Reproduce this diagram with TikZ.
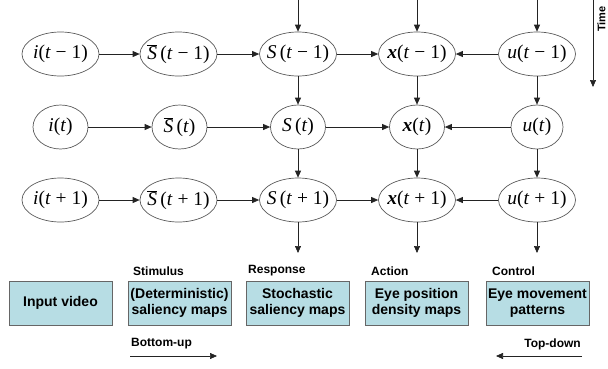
\documentclass[tikz,border=0pt]{standalone}
\usepackage{fontspec}
\setmainfont{Liberation Sans}
\newfontfamily\tms{Liberation Serif}
\usetikzlibrary{shapes.geometric,arrows.meta}
\definecolor{boxfill}{RGB}{183,221,228}
\definecolor{linec}{RGB}{35,35,35}
\newcommand{\mv}[1]{\makebox[0pt][c]{#1}}
\begin{document}
\begin{tikzpicture}[x=1pt,y=-1pt,
  var/.style={draw=linec!75, line width=0.7pt, ellipse, inner sep=0pt, minimum height=44pt, font=\tms\fontsize{19.5}{22}\selectfont},
  wide/.style={var, minimum width=77pt},
  narrow/.style={var, minimum width=55pt},
  arr/.style={draw=linec, line width=0.7pt, -{Triangle[length=7pt,width=6pt]}},
  box/.style={draw=black!60, line width=0.8pt, fill=boxfill, minimum width=103pt, minimum height=44pt, inner sep=0pt, align=center, font=\bfseries\fontsize{14}{15.5}\selectfont},
  lab/.style={font=\bfseries\fontsize{12}{14}\selectfont, inner sep=0pt}
]
\useasboundingbox (0,0) rectangle (608,368);

% row 1
\node[wide] (i1) at (60.5,54) {\mv{\textit{i}(\textit{t} − 1)}};
\node[wide] (sb1) at (178.5,54) {\mv{$\overline{\mbox{\textit{S}}}$\,(\textit{t} − 1)}};
\node[wide] (s1) at (298,54) {\mv{\textit{S}\,(\textit{t} − 1)}};
\node[wide] (x1) at (417,54) {\mv{\textbf{\textit{x}}(\textit{t} − 1)}};
\node[wide] (u1) at (537,54) {\mv{\textit{u}(\textit{t} − 1)}};
% row 2
\node[narrow] (i2) at (60.5,127) {\mv{\textit{i}(\textit{t})}};
\node[narrow] (sb2) at (179.5,127) {\mv{$\overline{\mbox{\textit{S}}}$\,(\textit{t})}};
\node[narrow] (s2) at (298,127) {\mv{\textit{S}\,(\textit{t})}};
\node[narrow] (x2) at (417,127) {\mv{\textbf{\textit{x}}(\textit{t})}};
\node[var, minimum width=52pt] (u2) at (537,127) {\mv{\textit{u}(\textit{t})}};
% row 3
\node[wide] (i3) at (60.5,200) {\mv{\textit{i}(\textit{t} + 1)}};
\node[wide] (sb3) at (178.5,200) {\mv{$\overline{\mbox{\textit{S}}}$\,(\textit{t} + 1)}};
\node[wide] (s3) at (298,200) {\mv{\textit{S}\,(\textit{t} + 1)}};
\node[wide] (x3) at (417,200) {\mv{\textbf{\textit{x}}(\textit{t} + 1)}};
\node[wide] (u3) at (537,200) {\mv{\textit{u}(\textit{t} + 1)}};

% horizontal arrows
\foreach \r in {1,2,3}{
  \draw[arr] (i\r.east) -- (sb\r.west);
  \draw[arr] (sb\r.east) -- (s\r.west);
  \draw[arr] (s\r.east) -- (x\r.west);
  \draw[arr] (u\r.west) -- (x\r.east);
}
% vertical arrows
\foreach \c in {s,x,u}{
  \draw[arr] (\c1.south) -- (\c2.north);
  \draw[arr] (\c2.south) -- (\c3.north);
}
% top arrows
\coordinate (ts) at (298,0);
\coordinate (tx) at (417,0);
\coordinate (tu) at (537,0);
\draw[arr] (ts) -- (s1.north);
\draw[arr] (tx) -- (x1.north);
\draw[arr] (tu) -- (u1.north);
% bottom arrows
\coordinate (bs) at (298,253);
\coordinate (bx) at (417,253);
\coordinate (bu) at (537,253);
\draw[arr] (s3.south) -- (bs);
\draw[arr] (x3.south) -- (bx);
\draw[arr] (u3.south) -- (bu);

% time
\node[lab, rotate=90, font=\bfseries\fontsize{11}{13}\selectfont] (time) at (601.5,19) {Time};
\coordinate (t0) at (593,0);
\coordinate (t1) at (593,87);
\draw[arr] (t0) -- (t1);

% boxes
\node[box] (b1) at (60.5,303) {Input video};
\node[box] (b2) at (179.5,303) {(Deterministic)\\saliency maps};
\node[box] (b3) at (297.5,303) {Stochastic\\saliency maps};
\node[box] (b4) at (416.5,303) {Eye position\\density maps};
\node[box] (b5) at (537.5,303) {Eye movement\\patterns};

% labels
\node[lab, anchor=west] (l2) at (133,271) {Stimulus};
\node[lab, anchor=west] (l3) at (248,271) {Response};
\node[lab, anchor=west] (l4) at (371,271) {Action};
\node[lab, anchor=west] (l5) at (492,271) {Control};

% direction
\node[lab, anchor=west] (bu) at (131,344) {Bottom-up};
\node[lab, anchor=east] (td) at (581,344) {Top-down};
\coordinate (bua) at (130,356);
\coordinate (bub) at (217,356);
\coordinate (tda) at (582,356);
\coordinate (tdb) at (496,356);
\draw[arr] (bua) -- (bub);
\draw[arr] (tda) -- (tdb);
\end{tikzpicture}
\end{document}
